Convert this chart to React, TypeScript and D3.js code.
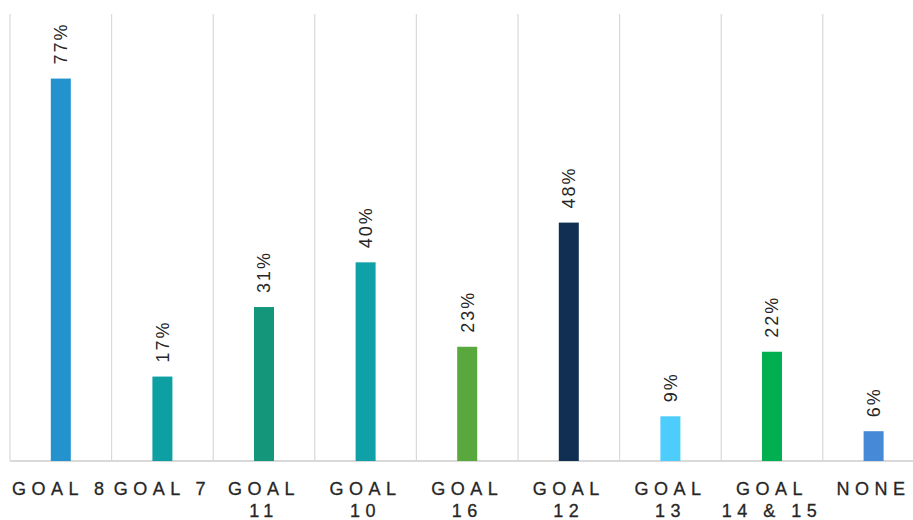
import React from "react";
import * as d3 from "d3";

const categories = ["GOAL 8", "GOAL 7", "GOAL 11", "GOAL 10", "GOAL 16", "GOAL 12", "GOAL 13", "GOAL 14 & 15", "NONE"];
const tickLabelLines = [["GOAL 8"], ["GOAL 7"], ["GOAL", "11"], ["GOAL", "10"], ["GOAL", "16"], ["GOAL", "12"], ["GOAL", "13"], ["GOAL", "14 & 15"], ["NONE"]];
const values = [77, 17, 31, 40, 23, 48, 9, 22, 6];
const colors = ["#2492CC", "#0E9FA3", "#13967A", "#0FA0A8", "#58A83E", "#102F52", "#4DCDFE", "#00B050", "#4689D6"];

const W = 913;
const H = 520;
const left = 10;
const step = 101.6;
const baseY = 461;
const topY = 14;

export default function App() {
  const x = d3.scaleBand<string>().domain(categories).range([left, left + step * categories.length]).paddingInner(0).paddingOuter(0);
  const y = d3.scaleLinear().domain([0, 90]).range([baseY, topY]);
  const barW = 20;
  const font = "'Liberation Sans', Arial, sans-serif";
  const gridXs = categories.map((c) => x(c) as number).concat([left + step * categories.length]);
  return (
    <svg width={W} height={H} style={{ position: "absolute", left: 0, top: 0, background: "#fff" }}>
      {gridXs.map((gx, i) => (
        <line key={i} x1={gx} x2={gx} y1={topY} y2={baseY} stroke="#d9d9d9" strokeWidth={1.2} />
      ))}
      <line x1={left} x2={W} y1={baseY} y2={baseY} stroke="#d9d9d9" strokeWidth={1.8} />
      {categories.map((c, i) => {
        const cx = (x(c) as number) + x.bandwidth() / 2;
        const yt = y(values[i]);
        return (
          <g key={c}>
            <rect x={cx - barW / 2} y={yt} width={barW} height={baseY - yt} fill={colors[i]} />
            <text
              transform={`translate(${cx},${yt - 14}) rotate(-90)`}
              dy="0.36em"
              textAnchor="start"
              fontFamily={font}
              fontSize={18}
              letterSpacing={2}
              fill="#262626"
            >
              {values[i]}%
            </text>
            {tickLabelLines[i].map((ln, j) => (
              <text
                key={j}
                x={cx}
                y={495 + j * 22}
                textAnchor="middle"
                fontFamily={font}
                fontSize={18}
                letterSpacing={5.5}
                stroke="#262626"
                strokeWidth={0.3}
                fill="#262626"
              >
                {ln}
              </text>
            ))}
          </g>
        );
      })}
    </svg>
  );
}
